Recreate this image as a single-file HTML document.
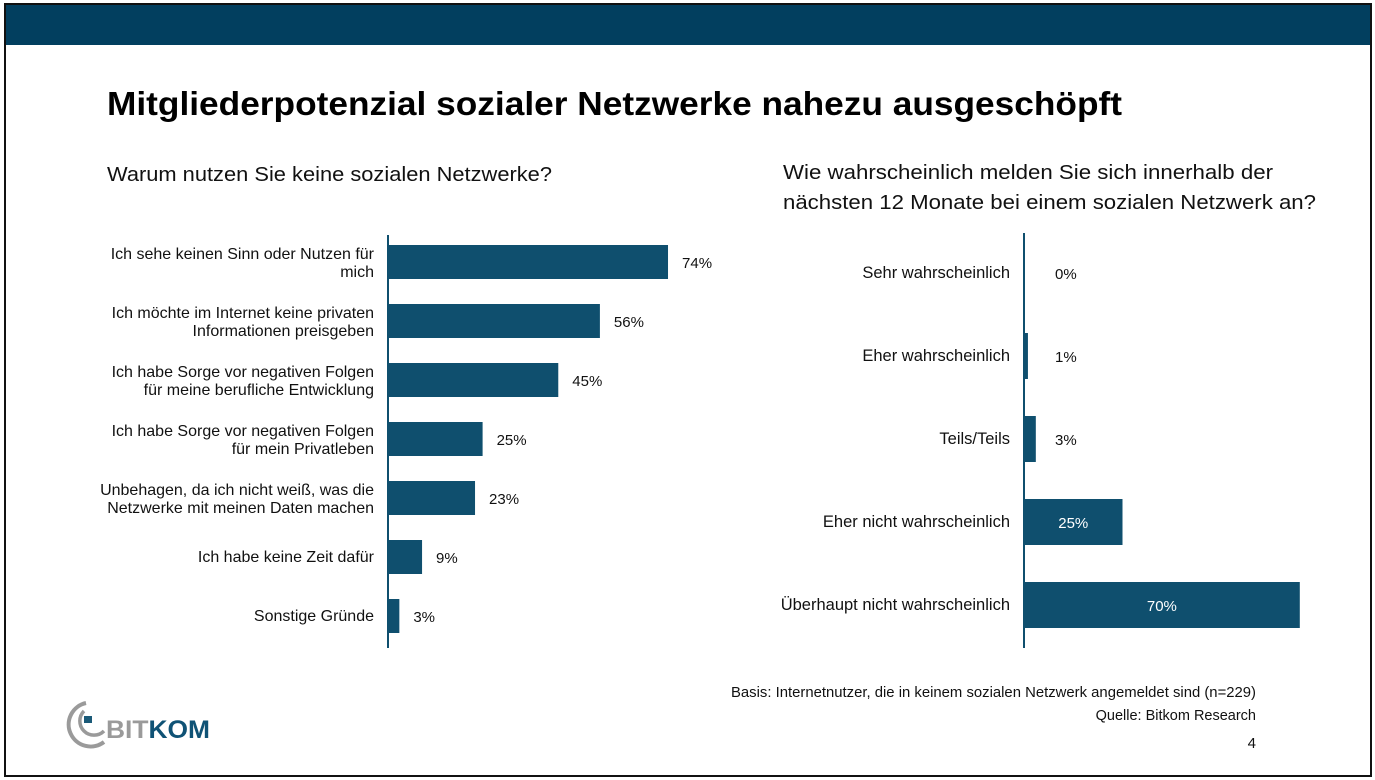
<!DOCTYPE html>
<html><head><meta charset="utf-8"><style>
html,body{margin:0;padding:0;background:#fff}
svg{display:block;font-family:"Liberation Sans",sans-serif}
</style></head><body>
<svg id="s" width="1375" height="780" viewBox="0 0 1375 780">
<rect x="5" y="4" width="1366" height="772" fill="#fff" stroke="#111" stroke-width="2"/>
<rect x="6" y="5" width="1364" height="40" fill="#023f5f"/>
<text x="107" y="115" font-size="33" font-weight="bold" textLength="1015" lengthAdjust="spacingAndGlyphs" fill="#000">Mitgliederpotenzial sozialer Netzwerke nahezu ausgeschöpft</text>
<text x="107" y="181" font-size="20" textLength="445" lengthAdjust="spacingAndGlyphs" fill="#111">Warum nutzen Sie keine sozialen Netzwerke?</text>
<text x="783" y="179" font-size="20" textLength="490" lengthAdjust="spacingAndGlyphs" fill="#111">Wie wahrscheinlich melden Sie sich innerhalb der</text>
<text x="783" y="209" font-size="20" textLength="533" lengthAdjust="spacingAndGlyphs" fill="#111">nächsten 12 Monate bei einem sozialen Netzwerk an?</text>
<g id="left"></g>
<g id="right"></g>
<text x="1256" y="697" font-size="14.5" text-anchor="end" textLength="525" lengthAdjust="spacingAndGlyphs" fill="#111">Basis: Internetnutzer, die in keinem sozialen Netzwerk angemeldet sind (n=229)</text>
<text x="1256" y="720" font-size="14.5" text-anchor="end" fill="#111">Quelle: Bitkom Research</text>
<text x="1256" y="748" font-size="15" text-anchor="end" fill="#111">4</text>
<g>
<path d="M86 703 A22 22 0 1 0 104 742" fill="none" stroke="#9a9a9a" stroke-width="4"/>
<path d="M84 711 A12 12 0 1 0 104 731" fill="none" stroke="#9a9a9a" stroke-width="3.5"/>
<rect x="84" y="716" width="8" height="7" fill="#1b5a78"/>
<text x="106" y="738" font-size="25" font-weight="bold" textLength="104" lengthAdjust="spacingAndGlyphs" fill="#9a9a9a">BIT<tspan fill="#0f5275">KOM</tspan></text>
</g>
</svg>
<script>
const NS="http://www.w3.org/2000/svg";
const leftCats=[["Ich sehe keinen Sinn oder Nutzen für","mich"],["Ich möchte im Internet keine privaten","Informationen preisgeben"],["Ich habe Sorge vor negativen Folgen","für meine berufliche Entwicklung"],["Ich habe Sorge vor negativen Folgen","für mein Privatleben"],["Unbehagen, da ich nicht weiß, was die","Netzwerke mit meinen Daten machen"],["Ich habe keine Zeit dafür"],["Sonstige Gründe"]];
const leftVals=[74,56,45,25,23,9,3];
const rightCats=["Sehr wahrscheinlich","Eher wahrscheinlich","Teils/Teils","Eher nicht wahrscheinlich","Überhaupt nicht wahrscheinlich"];
const rightVals=[0,1,3,25,70];
function mk(t,a,p){const e=document.createElementNS(NS,t);for(const k in a)e.setAttribute(k,a[k]);p.appendChild(e);return e;}
const C="#0f4f6e";
const L=document.getElementById("left");
const lx=v=>388+v*3.784, ly=i=>262+i*59;
leftVals.forEach((v,i)=>{
 const b=mk("rect",{x:388,y:ly(i)-17,width:lx(v)-388,height:34,fill:C},L);
 
 
 const t=mk("text",{x:lx(v)+14,y:ly(i)+6,"font-size":15,fill:"#111"},L);t.textContent=v+"%";
 
 
 const c=leftCats[i];
 c.forEach((ln,j)=>{const tt=mk("text",{x:374,y:ly(i)+(c.length==1?5:-3+j*18),"font-size":16,"text-anchor":"end",fill:"#111"},L);tt.textContent=ln;
  
  });
});
const la=mk("line",{x1:388,y1:235,x2:388,y2:648,stroke:C,"stroke-width":2},L);


const R=document.getElementById("right");
const rx=v=>1024+v*3.94, ry=i=>273+i*83;
rightVals.forEach((v,i)=>{
 const b=mk("rect",{x:1024,y:ry(i)-23,width:rx(v)-1024,height:46,fill:C},R);
 
 
 const inside=v>=10;
 const t=mk("text",{x:inside?(1024+rx(v))/2:1055,y:ry(i)+6,"font-size":15,fill:inside?"#fff":"#111","text-anchor":inside?"middle":"start"},R);t.textContent=v+"%";
 
 
 const c=mk("text",{x:1010,y:ry(i)+5,"font-size":16.5,"text-anchor":"end",fill:"#111"},R);c.textContent=rightCats[i];
 
 
});
const ra=mk("line",{x1:1024,y1:233,x2:1024,y2:648,stroke:C,"stroke-width":2},R);


</script>
</body></html>
